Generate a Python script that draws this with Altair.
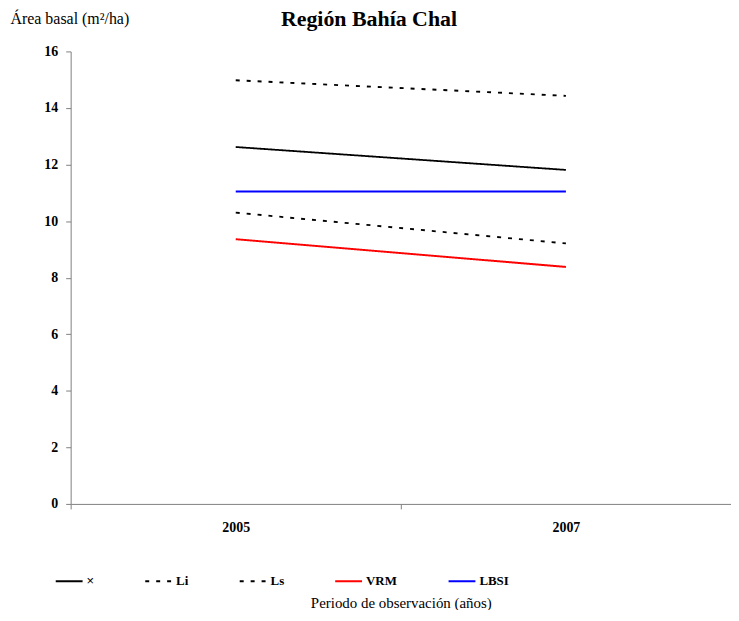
import altair as alt
import pandas as pd

years = ["2005", "2007"]
series = ["×", "Li", "Ls", "VRM", "LBSI"]
val_x = [12.62, 11.81]
val_li = [10.30, 9.21]
val_ls = [14.98, 14.43]
val_vrm = [9.36, 8.38]
val_lbsi = [11.05, 11.05]

colors = ["black", "black", "black", "red", "blue"]
dashes = [[1, 0], [4, 7], [4, 7], [1, 0], [1, 0]]
widths = [1.8, 2, 2, 1.8, 3.2]

rows = []
for name, vals in zip(series, [val_x, val_li, val_ls, val_vrm, val_lbsi]):
    for yr, v in zip(years, vals):
        rows.append({"Año": yr, "Serie": name, "Valor": v})
df = pd.DataFrame(rows)

serif = "Liberation Serif"

leg = dict(
    title=None,
    labelFontWeight={"expr": "datum.label === '×' ? 'normal' : 'bold'"},
    labelFont={"expr": "datum.label === '×' ? 'Liberation Sans' : 'Liberation Serif'"},
)

chart = alt.Chart(df).mark_line().encode(
    x=alt.X("Año:O", sort=years,
            scale=alt.Scale(paddingInner=0, paddingOuter=0),
            axis=alt.Axis(title="Periodo de observación (años)", labelAngle=0,
                          tickBand="extent", labelFont=serif, labelFontSize=14,
                          labelFontWeight="bold", labelColor="black", labelPadding=12,
                          titleFont=serif, titleFontSize=15, titleFontWeight="normal",
                          titleColor="black", titlePadding=61,
                          domainColor="#808080", tickColor="#808080", tickSize=5)),
    y=alt.Y("Valor:Q", scale=alt.Scale(domain=[0, 16]),
            axis=alt.Axis(values=list(range(0, 17, 2)), grid=False,
                          labelFont=serif, labelFontSize=14, labelFontWeight="bold",
                          labelColor="black", labelPadding=8,
                          domainColor="#808080", tickColor="#808080", tickSize=5,
                          title="Área basal (m²/ha)", titleAngle=0, titleFont=serif,
                          titleFontSize=16, titleFontWeight="normal", titleColor="black",
                          titleX=-61, titleY=-33, titleAlign="left",
                          titleBaseline="middle")),
    color=alt.Color("Serie:N", scale=alt.Scale(domain=series, range=colors),
                    legend=alt.Legend(**leg)),
    strokeDash=alt.StrokeDash("Serie:N", scale=alt.Scale(domain=series, range=dashes),
                              legend=alt.Legend(**leg)),
    strokeWidth=alt.StrokeWidth("Serie:N", scale=alt.Scale(domain=series, range=widths),
                                legend=alt.Legend(**leg)),
).properties(
    width=664, height=455,
    autosize=alt.AutoSizeParams(type="none"),
    padding={"left": 63, "top": 42, "right": 0, "bottom": 105},
    title=alt.TitleParams("Región Bahía Chal", font=serif, fontSize=22,
                          fontWeight="bold", color="black", anchor="middle",
                          offset=-20, dx=-32),
).configure_view(stroke=None).configure_legend(
    orient="none", legendX=-16, legendY=518, direction="horizontal", columns=5,
    columnPadding=47, symbolType="stroke", symbolSize=729,
    labelFontSize=13, labelColor="black", labelOffset=3,
)

chart.save("out.html", embed_options={"renderer": "svg", "actions": False})
